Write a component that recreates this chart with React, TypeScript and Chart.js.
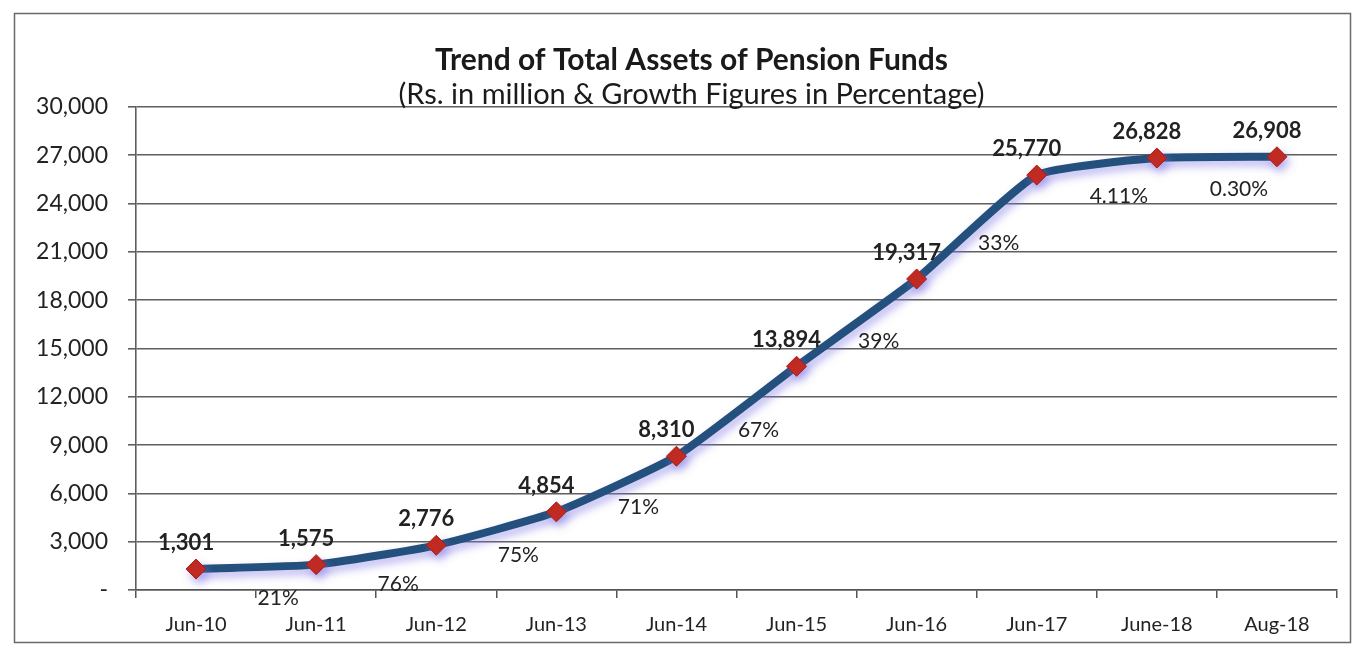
import React, { useEffect, useRef } from "react";
import { Chart, registerables } from "chart.js";

Chart.register(...registerables);

const categories = ["Jun-10", "Jun-11", "Jun-12", "Jun-13", "Jun-14", "Jun-15", "Jun-16", "Jun-17", "June-18", "Aug-18"];
const totalAssets = [1301, 1575, 2776, 4854, 8310, 13894, 19317, 25770, 26828, 26908];
const growthLabels = ["21%", "76%", "75%", "71%", "67%", "39%", "33%", "4.11%", "0.30%"];
const yMin = 0;
const yMax = 30000;
const yStep = 3000;
const titleText = "Trend of Total Assets of Pension Funds";
const subtitleText = "(Rs. in million & Growth Figures in Percentage)";

const FONT = "Lato, 'Open Sans', sans-serif";
const W = 1357;
const H = 646;

const fmt = (v: number) => (v === 0 ? "-" : v.toLocaleString("en-US"));

const framePlugin = {
  id: "frameAndTitle",
  beforeDraw(chart: any) {
    const ctx = chart.ctx;
    ctx.save();
    ctx.fillStyle = "#ffffff";
    ctx.fillRect(0, 0, chart.width, chart.height);
    ctx.strokeStyle = "#6a6a6a";
    ctx.lineWidth = 1.5;
    ctx.strokeRect(14.5, 13.5, 1336, 629);
    ctx.restore();
  },
  afterDraw(chart: any) {
    const ctx = chart.ctx;
    const cx = (chart.chartArea.left + chart.chartArea.right) / 2 - 45;
    ctx.save();
    ctx.fillStyle = "#1a1a1a";
    ctx.textAlign = "center";
    ctx.textBaseline = "middle";
    ctx.font = `bold 30px ${FONT}`;
    ctx.fillText(titleText, cx, 60);
    ctx.font = `29px ${FONT}`;
    ctx.fillText(subtitleText, cx, 95);
    ctx.restore();
  },
};

const shadowPlugin = {
  id: "lineShadow",
  beforeDatasetDraw(chart: any) {
    const ctx = chart.ctx;
    ctx.save();
    ctx.shadowColor = "rgba(130, 120, 230, 0.55)";
    ctx.shadowBlur = 8;
    ctx.shadowOffsetX = 3;
    ctx.shadowOffsetY = 5;
  },
  afterDatasetDraw(chart: any) {
    chart.ctx.restore();
  },
};

const labelPlugin = {
  id: "valueLabels",
  afterDatasetsDraw(chart: any) {
    const ctx = chart.ctx;
    const meta = chart.getDatasetMeta(0);
    const pts = meta.data;
    ctx.save();
    ctx.textAlign = "center";
    ctx.textBaseline = "middle";
    ctx.fillStyle = "#222222";
    ctx.font = `bold 22px ${FONT}`;
    pts.forEach((p: any, i: number) => {
      ctx.fillText(fmt(totalAssets[i]), p.x - 10, p.y - 26);
    });
    ctx.font = `21px ${FONT}`;
    growthLabels.forEach((g, i) => {
      const a = pts[i];
      const b = pts[i + 1];
      if (!a || !b) return;
      const t = 0.65;
      const x = a.x + (b.x - a.x) * t + 4;
      const y = a.y + (b.y - a.y) * t + 32;
      ctx.fillText(g, x, y);
    });
    ctx.restore();
  },
};

export default function App() {
  const ref = useRef<HTMLCanvasElement | null>(null);

  useEffect(() => {
    if (!ref.current) return;
    const chart = new Chart(ref.current, {
      type: "line",
      data: {
        labels: categories,
        datasets: [
          {
            label: "Total Assets",
            data: totalAssets,
            borderColor: "#24507d",
            borderWidth: 8,
            tension: 0.15,
            pointStyle: "rectRot",
            pointRadius: 10,
            pointBackgroundColor: "#c3281c",
            pointBorderColor: "#a81e15",
            pointBorderWidth: 1,
            fill: false,
          },
        ],
      },
      options: {
        responsive: false,
        animation: false,
        devicePixelRatio: 1,
        layout: { padding: { top: 107, right: 20, bottom: 0, left: 0 } },
        plugins: {
          legend: { display: false },
          title: { display: false },
          tooltip: { enabled: false },
        },
        scales: {
          x: {
            type: "category",
            offset: true,
            grid: {
              offset: true,
              drawOnChartArea: false,
              drawTicks: true,
              tickLength: 8,
              color: "#555555",
              lineWidth: 1.5,
            },
            border: { display: true, color: "#555555", width: 1.5 },
            ticks: {
              color: "#222222",
              font: { family: FONT, size: 20 },
              padding: 15,
              maxRotation: 0,
              autoSkip: false,
            },
            afterFit(scale: any) {
              scale.height = 56;
            },
          },
          y: {
            min: yMin,
            max: yMax,
            grid: {
              color: "#5f5f5f",
              lineWidth: 1.6,
              drawTicks: true,
              tickLength: 8,
            },
            border: { display: true, color: "#5f5f5f", width: 1.6 },
            ticks: {
              stepSize: yStep,
              color: "#222222",
              font: { family: FONT, size: 23 },
              padding: 20,
              callback: (v: any) => fmt(Number(v)),
            },
            afterFit(scale: any) {
              scale.width = 136;
            },
          },
        },
      },
      plugins: [framePlugin, shadowPlugin, labelPlugin],
    });
    return () => chart.destroy();
  }, []);

  return (
    <div style={{ position: "absolute", left: 0, top: 0, width: W, height: H, background: "#fff" }}>
      <canvas ref={ref} width={W} height={H} style={{ display: "block", width: W, height: H }} />
    </div>
  );
}
